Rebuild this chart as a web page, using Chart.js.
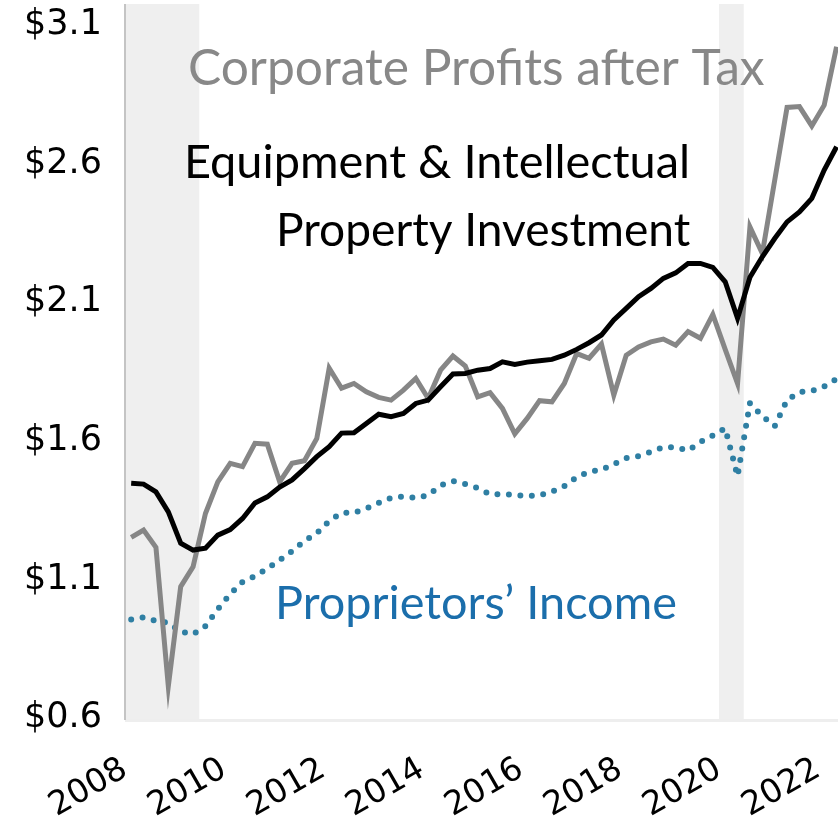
<!DOCTYPE html>
<html>
<head>
<meta charset="utf-8">
<script src="https://cdn.jsdelivr.net/npm/chart.js@4.4.1/dist/chart.umd.min.js"></script>
<style>
  html, body { margin: 0; padding: 0; background: #fff; }
  #wrap { width: 838px; height: 825px; }
</style>
</head>
<body>
<div id="wrap"><canvas id="chart" width="838" height="825"></canvas></div>
<script>
const FONT = 'Lato, "Noto Sans", sans-serif';
const TICK_FONT = '"DejaVu Sans", "Noto Sans", sans-serif';

// quarterly, 2008Q1 .. 2022Q2 (trillions of dollars)
const quarters = [];
for (let y = 2008; y <= 2022; y++) {
  for (let q = 1; q <= 4; q++) {
    if (y < 2022 || q <= 2) quarters.push(y + 'Q' + q);
  }
}

const equipmentIP = [
  1.447, 1.444, 1.416, 1.344, 1.231, 1.206, 1.213, 1.260, 1.280, 1.320,
  1.376, 1.398, 1.433, 1.459, 1.500, 1.543, 1.579, 1.628, 1.629, 1.663,
  1.696, 1.687, 1.699, 1.735, 1.747, 1.795, 1.841, 1.843, 1.855, 1.861,
  1.885, 1.876, 1.884, 1.889, 1.894, 1.909, 1.930, 1.954, 1.982, 2.036,
  2.078, 2.120, 2.150, 2.186, 2.206, 2.240, 2.240, 2.226, 2.174, 2.042,
  2.190, 2.264, 2.330, 2.390, 2.426, 2.475, 2.577, 2.661
];
const corpProfits = [
  1.252, 1.278, 1.216, 0.715, 1.074, 1.146, 1.338, 1.452, 1.519, 1.507,
  1.591, 1.588, 1.452, 1.519, 1.528, 1.609, 1.862, 1.790, 1.807, 1.777,
  1.757, 1.747, 1.783, 1.825, 1.753, 1.855, 1.906, 1.870, 1.759, 1.774,
  1.717, 1.625, 1.681, 1.745, 1.741, 1.807, 1.915, 1.898, 1.949, 1.765,
  1.909, 1.939, 1.957, 1.967, 1.945, 1.994, 1.970, 2.056, 1.930, 1.807,
  2.372, 2.276, 2.540, 2.803, 2.806, 2.736, 2.811, 3.022
];
const proprietors = [
  0.956, 0.963, 0.950, 0.944, 0.912, 0.902, 0.932, 0.993, 1.047, 1.091,
  1.112, 1.139, 1.170, 1.202, 1.239, 1.267, 1.311, 1.340, 1.341, 1.356,
  1.376, 1.394, 1.399, 1.394, 1.404, 1.439, 1.455, 1.444, 1.430, 1.407,
  1.408, 1.405, 1.401, 1.403, 1.417, 1.437, 1.469, 1.489, 1.495, 1.516,
  1.538, 1.545, 1.560, 1.577, 1.577, 1.565, 1.596, 1.619, 1.645, 1.473,
  1.736, 1.689, 1.653, 1.747, 1.776, 1.780, 1.796, 1.823
];

const recessions = [[2008.0, 2009.5], [2020.0, 2020.5]];
const yTicks = [0.6, 1.1, 1.6, 2.1, 2.6, 3.1];
const xTicks = [2008, 2010, 2012, 2014, 2016, 2018, 2020, 2022];

// mid-quarter position on a year axis
function qx(label) {
  const y = +label.slice(0, 4), q = +label.slice(5);
  return y + (q - 1) / 4 + 0.125;
}
function pts(arr) {
  return arr.map((v, i) => ({ x: qx(quarters[i]), y: v }));
}

const backdrop = {
  id: 'backdrop',
  beforeDatasetsDraw(chart) {
    const { ctx, chartArea: a, scales: { x } } = chart;
    ctx.save();
    ctx.fillStyle = '#efefef';
    recessions.forEach(([s, e]) => {
      const x0 = x.getPixelForValue(s), x1 = x.getPixelForValue(e);
      ctx.fillRect(x0, a.top, x1 - x0, a.bottom - a.top);
    });
    ctx.fillStyle = '#eeeeee';
    ctx.fillRect(a.left, a.bottom - 1, a.right - a.left, 3);
    ctx.fillStyle = '#c4c4c4';
    ctx.fillRect(a.left - 1, a.top, 2, a.bottom - a.top);
    ctx.restore();
  }
};

// series names written into the plot
const notes = [
  { text: 'Corporate Profits after Tax', left: 188, width: 577, base: 85, color: '#888888' },
  { text: 'Equipment & Intellectual', left: 184, width: 506, base: 178, color: '#000000' },
  { text: 'Property Investment', left: 276, width: 414, base: 246, color: '#000000' },
  { text: 'Proprietors\u2019 Income', left: 275, width: 402, base: 619, color: '#1b6eab' }
];
const notesPlugin = {
  id: 'notes',
  afterDatasetsDraw(chart) {
    const ctx = chart.ctx;
    ctx.save();
    ctx.textAlign = 'left';
    ctx.textBaseline = 'alphabetic';
    notes.forEach(n => {
      ctx.font = '40px ' + FONT;
      const size = 40 * n.width / ctx.measureText(n.text).width;
      ctx.font = size.toFixed(1) + 'px ' + FONT;
      ctx.fillStyle = n.color;
      ctx.fillText(n.text, n.left, n.base);
    });
    ctx.restore();
  }
};

new Chart(document.getElementById('chart'), {
  type: 'line',
  data: {
    datasets: [
      {
        label: 'Equipment & Intellectual Property Investment',
        data: pts(equipmentIP),
        borderColor: '#000000',
        borderWidth: 5,
        pointRadius: 0,
        tension: 0
      },
      {
        label: 'Corporate Profits after Tax',
        data: pts(corpProfits),
        borderColor: '#868686',
        borderWidth: 5,
        pointRadius: 0,
        tension: 0
      },
      {
        label: 'Proprietors\u2019 Income',
        data: pts(proprietors),
        borderColor: '#2f7fa3',
        borderWidth: 6,
        borderDash: [0, 11.5],
        borderCapStyle: 'round',
        pointRadius: 0,
        tension: 0
      }
    ]
  },
  options: {
    responsive: false,
    animation: false,
    layout: { padding: { top: 4, right: 0, left: 0, bottom: 0 } },
    plugins: { legend: { display: false }, tooltip: { enabled: false } },
    scales: {
      x: {
        type: 'linear',
        min: 2008,
        max: 2022.404,
        grid: { display: false },
        border: { display: false },
        afterBuildTicks: s => { s.ticks = xTicks.map(v => ({ value: v })); },
        afterFit: s => { s.height = 105; s.paddingLeft = 0; s.paddingRight = 0; },
        ticks: {
          color: '#000',
          font: { family: TICK_FONT, size: 33 },
          minRotation: 30,
          maxRotation: 30,
          padding: 22,
          callback: v => String(v)
        }
      },
      y: {
        min: 0.593,
        max: 3.176,
        grid: { display: false },
        border: { display: false },
        afterBuildTicks: s => { s.ticks = yTicks.map(v => ({ value: v })); },
        afterFit: s => { s.width = 125; s.paddingTop = 0; s.paddingBottom = 0; },
        ticks: {
          color: '#000',
          font: { family: TICK_FONT, size: 35 },
          padding: 15,
          callback: v => '$' + v.toFixed(1)
        }
      }
    }
  },
  plugins: [backdrop, notesPlugin]
});
</script>
</body>
</html>
